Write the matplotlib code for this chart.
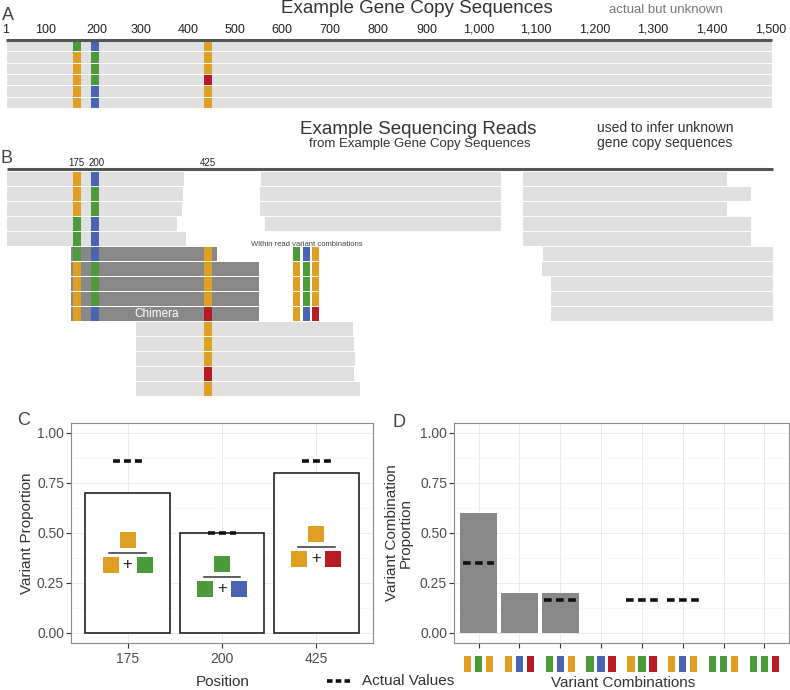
import matplotlib
matplotlib.use("Agg")
import matplotlib.pyplot as plt
import matplotlib.patches as mpatches
from matplotlib.lines import Line2D
from matplotlib.transforms import blended_transform_factory
import numpy as np

plt.rcParams['font.family'] = ['Liberation Sans', 'DejaVu Sans']
plt.rcParams['lines.scale_dashes'] = False

COL = {'O': '#e09e23', 'G': '#4b9b3a', 'B': '#4a64b3', 'R': '#b71c25'}
LIGHT = '#e0e0e0'
DARK = '#888888'

# ---------------- data ----------------
# panel A: schematic sequence scale and the six gene copies
scale_labels = ['1', '100', '200', '300', '400', '500', '600', '700', '800', '900',
                '1,000', '1,100', '1,200', '1,300', '1,400', '1,500']
scale_x = [6, 46, 97, 141, 188, 235, 282, 330, 378, 427, 479, 536, 595, 653, 712, 771]
var_positions = ['175', '200', '425']
var_x = [77, 95, 208]
copy_variants = ['GBO', 'OGO', 'OGO', 'OGR', 'OBO', 'OBO']

# panel B: reads (row, start, end, dark?, variants at 175/200/425, '-' = not covered)
read_row = [0, 1, 2, 3, 4,
            0, 1, 2, 3,
            0, 1, 2, 3, 4, 5, 6, 7, 8, 9,
            5, 6, 7, 8, 9,
            10, 11, 12, 13, 14]
read_start = [7, 7, 7, 7, 7,
              261, 260, 260, 265,
              523, 523, 523, 523, 523, 543, 542, 551, 551, 551,
              71, 71, 71, 71, 71,
              136, 136, 136, 136, 136]
read_end = [184, 183, 182, 177, 186,
            501, 501, 501, 501,
            727, 751, 727, 751, 751, 773, 773, 773, 773, 773,
            217, 259, 259, 259, 259,
            353, 354, 355, 354, 360]
read_dark = [False] * 19 + [True] * 5 + [False] * 5
read_vars = ['OB-', 'OG-', 'OG-', 'GB-', 'GB-',
             '---', '---', '---', '---',
             '---', '---', '---', '---', '---', '---', '---', '---', '---', '---',
             'GBO', 'OGO', 'OGO', 'OGO', 'OBR',
             '--O', '--O', '--O', '--R', '--O']
combo_x = [296.5, 306, 315.5]

# panel C
c_positions = ['175', '200', '425']
c_estimated = [0.70, 0.50, 0.80]
c_actual = [0.86, 0.50, 0.86]
c_icons = [('O', 'O', 'G'), ('G', 'G', 'B'), ('O', 'O', 'R')]
c_icon_y = [0.40, 0.28, 0.43]

# panel D
d_combos = ['OGO', 'OBR', 'GBO', 'GBR', 'OGR', 'OBO', 'GGO', 'GGR']
d_estimated = [0.60, 0.20, 0.20, 0, 0, 0, 0, 0]
d_actual = [0.35, np.nan, 0.167, np.nan, 0.167, 0.167, np.nan, np.nan]

# ---------------- figure ----------------
fig = plt.figure(figsize=(7.9, 6.9), dpi=100)
ax_s = fig.add_axes([0, 0, 1, 1])
ax_s.set_xlim(0, 790)
ax_s.set_ylim(690, 0)
ax_s.axis('off')


def block(x0, x1, top, h, color):
    ax_s.add_patch(mpatches.Rectangle((x0, top), x1 - x0, h, facecolor=color, edgecolor='none'))


# panel A
ax_s.text(2, 20, 'A', fontsize=13, color='#444')
ax_s.text(417, 13, 'Example Gene Copy Sequences', fontsize=13.5, ha='center', color='#333')
ax_s.text(666, 13, 'actual but unknown', fontsize=9.5, ha='center', color='#777')
for lab, x in zip(scale_labels, scale_x):
    ax_s.text(x, 33, lab, fontsize=9, ha='center', color='#222')
ax_s.plot([6, 772], [39.5, 39.5], color='#555', lw=2.2, solid_capstyle='butt')
for i, combo in enumerate(copy_variants):
    top = 41 + i * 11.35
    block(7, 772, top, 10.4, LIGHT)
    for v, x in zip(combo, var_x):
        block(x - 4.25, x + 4.25, top, 10.4, COL[v])

# panel B
ax_s.text(0, 163, 'B', fontsize=13, color='#444')
ax_s.text(418, 134, 'Example Sequencing Reads', fontsize=13.5, ha='center', color='#333')
ax_s.text(420, 147.5, 'from Example Gene Copy Sequences', fontsize=9.5, ha='center', color='#333')
ax_s.text(597, 132, 'used to infer unknown', fontsize=10, color='#333')
ax_s.text(597, 146.5, 'gene copy sequences', fontsize=10, color='#333')
for lab, x in zip(var_positions, [76, 97, 208]):
    ax_s.text(x, 166.5, lab, fontsize=7, ha='center', color='#222')
ax_s.plot([7, 773], [169, 169], color='#555', lw=2.2, solid_capstyle='butt')
for r, x0, x1, dk, vs in zip(read_row, read_start, read_end, read_dark, read_vars):
    top = 172.3 + r * 15
    block(x0, x1, top, 13.7, DARK if dk else LIGHT)
    for v, x in zip(vs, var_x):
        if v != '-':
            block(x - 4.25, x + 4.25, top, 13.7, COL[v])
    if dk:
        for v, x in zip(vs, combo_x):
            block(x - 3.5, x + 3.5, top, 13.7, COL[v])
    if vs == 'OBR' and dk:
        ax_s.text(157, top + 7, 'Chimera', fontsize=8.5, color='white', ha='center', va='center')
ax_s.text(307, 246, 'Within read variant combinations', fontsize=5.5, ha='center', color='#444')


def style(ax, n):
    ax.set_xlim(-0.6, n - 0.4)
    ax.set_ylim(-0.05, 1.05)
    ax.set_yticks([0, 0.25, 0.5, 0.75, 1.0])
    ax.set_yticklabels(['0.00', '0.25', '0.50', '0.75', '1.00'])
    ax.set_yticks([0.125, 0.375, 0.625, 0.875], minor=True)
    ax.set_xticks(range(n))
    ax.grid(which='major', color='#ebebeb', lw=0.7)
    ax.grid(which='minor', axis='y', color='#f2f2f2', lw=0.4)
    ax.set_axisbelow(True)
    for s in ax.spines.values():
        s.set_color('#8a8a8a')
        s.set_linewidth(0.8)
    ax.tick_params(which='major', length=3.5, width=0.8, color='#333',
                   labelsize=10, labelcolor='#4d4d4d')
    ax.tick_params(axis='y', pad=1.5)
    ax.tick_params(axis='x', pad=3)
    ax.tick_params(which='minor', length=0)


# panel C
ax_c = fig.add_axes([71 / 790, 47 / 690, 302 / 790, 220 / 690])
style(ax_c, 3)
xc = np.arange(3)
ax_c.bar(xc, c_estimated, width=0.9, facecolor='white', edgecolor='#222', lw=1.2, zorder=2)
ax_c.set_xticklabels(c_positions)
for i, v in enumerate(c_actual):
    ax_c.plot([i - 0.15, i + 0.15], [v, v], color='#111', lw=2.6, dashes=(5, 2.9),
              dash_capstyle='butt', zorder=3)
sw, sh = 0.17, 0.08
for i, (top_c, left_c, right_c) in enumerate(c_icons):
    y = c_icon_y[i]
    ax_c.add_patch(mpatches.Rectangle((i - sw / 2, y + 0.065 - sh / 2), sw, sh,
                                      facecolor=COL[top_c], edgecolor='none', zorder=3))
    ax_c.plot([i - 0.196, i + 0.196], [y, y], color='#333', lw=1.1, zorder=3)
    for dx, c in ((-0.18, left_c), (0.18, right_c)):
        ax_c.add_patch(mpatches.Rectangle((i + dx - sw / 2, y - 0.06 - sh / 2), sw, sh,
                                          facecolor=COL[c], edgecolor='none', zorder=3))
    ax_c.text(i, y - 0.06, '+', fontsize=12, ha='center', va='center', color='#222', zorder=4)
fig.text(17 / 790, 1 - 425 / 690, 'C', fontsize=13, color='#444')
fig.text(26.5 / 790, 1 - 533 / 690, 'Variant Proportion', fontsize=11, rotation=90,
         ha='center', va='center', color='#333')
fig.text(223 / 790, 1 - 682 / 690, 'Position', fontsize=11, ha='center', va='center', color='#333')

# legend
fig.add_artist(Line2D([327 / 790, 350 / 790], [1 - 681 / 690] * 2, color='#111', lw=2.6,
                      dashes=(4, 2.3), dash_capstyle='butt'))
fig.text(362 / 790, 1 - 681 / 690, 'Actual Values', fontsize=11, va='center', color='#333')

# panel D
ax_d = fig.add_axes([454 / 790, 47 / 690, 335 / 790, 220 / 690])
style(ax_d, 8)
xd = np.arange(8)
ax_d.bar(xd, d_estimated, width=0.9, color=DARK, lw=0, zorder=2)
ax_d.set_xticklabels([''] * 8)
for i, v in enumerate(d_actual):
    if not np.isnan(v):
        ax_d.plot([i - 0.39, i + 0.39], [v, v], color='#111', lw=2.6, dashes=(5.5, 3.2),
                  dash_capstyle='butt', zorder=3)
trans = blended_transform_factory(ax_d.transData, fig.transFigure)
for i, combo in enumerate(d_combos):
    for dx, c in zip((-0.27, 0, 0.27), combo):
        fig.add_artist(mpatches.Rectangle((i + dx - 0.09, 18 / 690), 0.18, 16 / 690,
                                          transform=trans, facecolor=COL[c], edgecolor='none',
                                          clip_on=False))
fig.text(392 / 790, 1 - 427 / 690, 'D', fontsize=13, color='#444')
fig.text(399 / 790, 1 - 533 / 690, 'Variant Combination\nProportion', fontsize=11, rotation=90,
         ha='center', va='center', color='#333', linespacing=1.0)
fig.text(623 / 790, 1 - 683 / 690, 'Variant Combinations', fontsize=11, ha='center',
         va='center', color='#333')

fig.savefig('out.png', dpi=100)
